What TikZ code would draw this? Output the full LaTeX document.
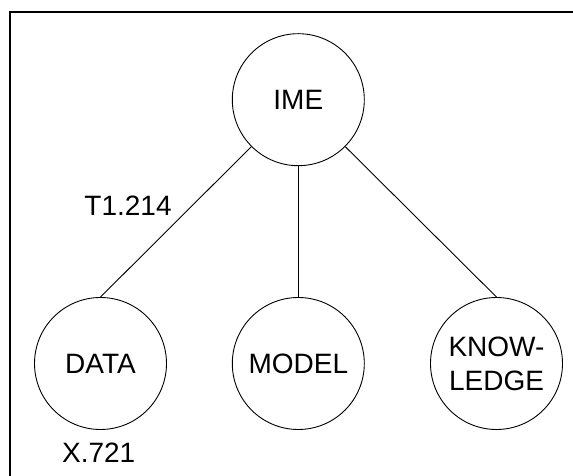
\documentclass[tikz,border=0pt]{standalone}
\usepackage{fontspec}
\setmainfont{Liberation Sans}
\begin{document}
\begin{tikzpicture}[x=1pt,y=1pt,
  bubble/.style={draw,circle,line width=0.9pt,inner sep=0pt,minimum size=132pt,align=center,font=\fontsize{28}{34}\selectfont},
  tag/.style={anchor=base,font=\fontsize{28}{34}\selectfont}]
\useasboundingbox (0,0) rectangle (573,476);
\clip (0,0) rectangle (573,476);
\draw[line width=2pt] (10,-20) rectangle (600,464);

\node[bubble] (ime) at (298.3,376.3) {IME};
\node[bubble] (data) at (100.5,112.5) {DATA};
\node[bubble] (model) at (298.3,112.5) {MODEL};
\node[bubble] (know) at (496.5,112.5) {KNOW-\\LEDGE};

\draw[line width=0.9pt] (ime.south west)--(data.north);
\draw[line width=0.9pt] (ime.south)--(model.north);
\draw[line width=0.9pt] (ime.south east)--(know.north);

\node[tag] (t1) at (128,260.3) {T1.214};
\node[tag] (x721) at (98.7,13.3) {X.721};
\end{tikzpicture}
\end{document}
